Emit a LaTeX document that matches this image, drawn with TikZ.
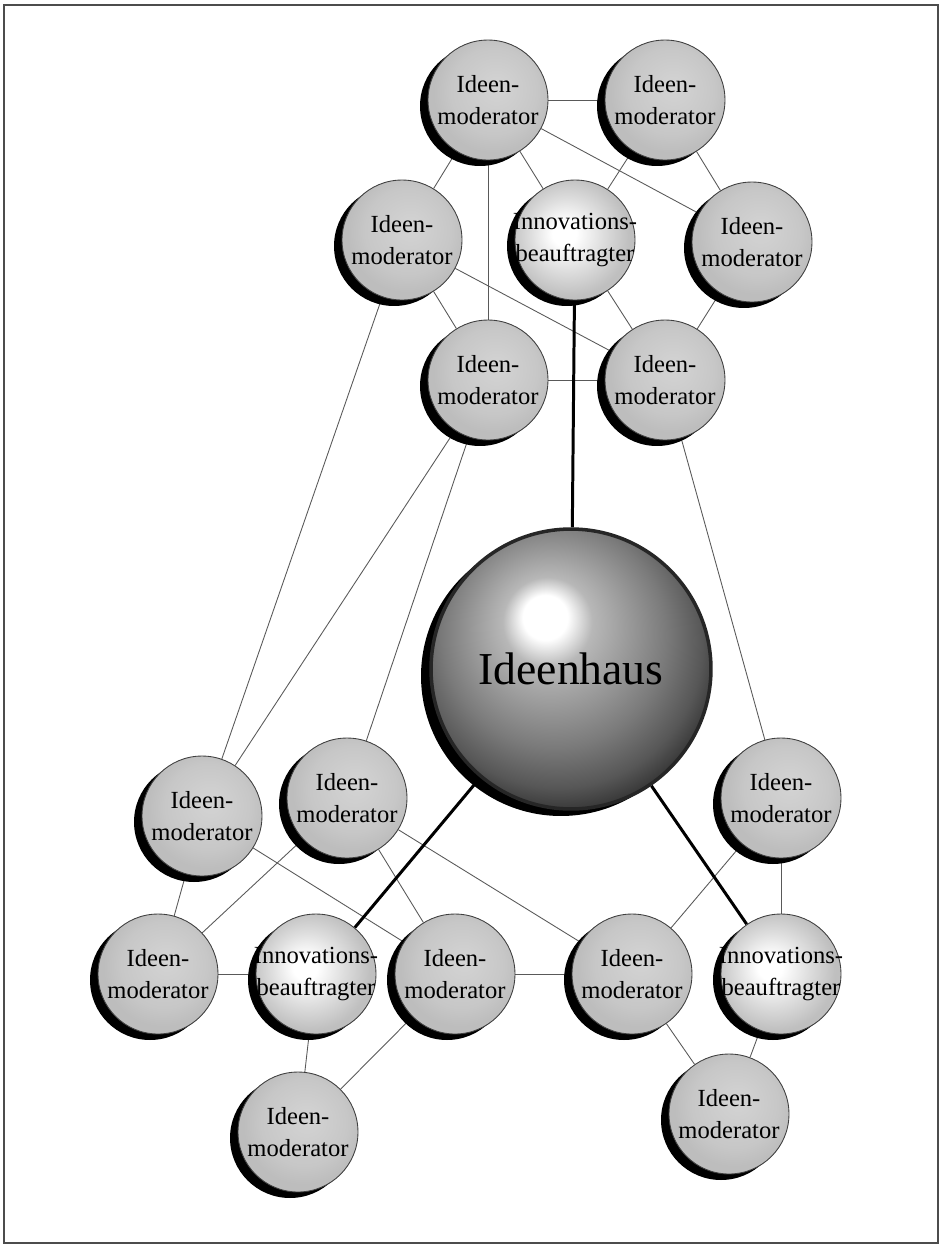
\documentclass[tikz,border=0pt]{standalone}
\usepackage{fontspec}
\setmainfont{Liberation Serif}
\usepackage{tikz}
\usetikzlibrary{shadows, backgrounds}

\pgfdeclareradialshading{ideeShade}{\pgfqpoint{4bp}{6bp}}{%
  color(0bp)=(black!17); color(18bp)=(black!22); color(25bp)=(black!26); color(50bp)=(black!26)}
\pgfdeclareradialshading{innoShade}{\pgfqpoint{-5bp}{3bp}}{%
  color(0bp)=(white); color(5bp)=(white); color(15bp)=(black!13); color(25bp)=(black!25); color(50bp)=(black!25)}
\pgfdeclareradialshading{hausShade}{\pgfqpoint{-5bp}{10bp}}{%
  color(0bp)=(white); color(4bp)=(white); color(8bp)=(black!28); color(14bp)=(black!40);
  color(20bp)=(black!52); color(26bp)=(black!66); color(30bp)=(black!80); color(33bp)=(black!88);
  color(50bp)=(black)}

\tikzset{
    % Shapes
    bubble/.style={circle, draw=black!75, line width=0.5pt, minimum size=2.4cm, inner sep=-6pt,
                   align=center, font=\fontsize{14}{18}\selectfont,
                   drop shadow={shadow xshift=-0.16cm, shadow yshift=-0.12cm, fill=black, opacity=1}},
    moderator/.style={bubble, shading=ideeShade},
    beauftragter/.style={bubble, shading=innoShade},
    haus/.style={circle, draw=black!85, line width=2pt, minimum size=5.6cm, inner sep=0pt,
                 shading=hausShade, font=\fontsize{26}{30}\selectfont,
                 drop shadow={shadow xshift=-0.2cm, shadow yshift=-0.14cm, fill=black, opacity=1}},
    % Links
    link/.style={line width=0.5pt, black!65},
    hardlink/.style={line width=1.7pt, black}
}

\begin{document}
\begin{tikzpicture}[x=0.02cm, y=-0.02cm]
\useasboundingbox (0,0) rectangle (941,1249);

\node[moderator] (im1) at (488,100) {Ideen-\\moderator};
\node[moderator] (im2) at (665,100) {Ideen-\\moderator};
\node[moderator] (im3) at (402,240) {Ideen-\\moderator};
\node[beauftragter] (ib1) at (575,240) {Innovations-\\beauftragter};
\node[moderator] (im4) at (752,242) {Ideen-\\moderator};
\node[moderator] (im5) at (488,380) {Ideen-\\moderator};
\node[moderator] (im6) at (665,380) {Ideen-\\moderator};

\node[haus] (haus) at (571,669) {Ideenhaus};

\node[moderator] (im7) at (202,816) {Ideen-\\moderator};
\node[moderator] (im8) at (347,798) {Ideen-\\moderator};
\node[moderator] (im9) at (781,798) {Ideen-\\moderator};

\node[moderator] (im10) at (158,974) {Ideen-\\moderator};
\node[beauftragter] (ib2) at (316,974) {Innovations-\\beauftragter};
\node[moderator] (im11) at (455,974) {Ideen-\\moderator};
\node[moderator] (im12) at (632,974) {Ideen-\\moderator};
\node[beauftragter] (ib3) at (781,974) {Innovations-\\beauftragter};

\node[moderator] (im13) at (298,1132) {Ideen-\\moderator};
\node[moderator] (im14) at (729,1114) {Ideen-\\moderator};

\begin{scope}[on background layer]
\draw[black!70, line width=0.8pt] (4,5) rectangle (938,1243);

\draw[link] (im1) -- (im2);
\draw[link] (im1) -- (im3);
\draw[link] (im1) -- (im5);
\draw[link] (im1) -- (ib1);
\draw[link] (im1) -- (im4);
\draw[link] (im2) -- (ib1);
\draw[link] (im2) -- (im4);
\draw[link] (im3) -- (im5);
\draw[link] (im3) -- (im6);
\draw[link] (ib1) -- (im6);
\draw[link] (im4) -- (im6);
\draw[link] (im5) -- (im6);

\draw[link] (im3) -- (im7);
\draw[link] (im5) -- (im7);
\draw[link] (im5) -- (im8);
\draw[link] (im6) -- (im9);

\draw[link] (im7) -- (im10);
\draw[link] (im7) -- (im11);
\draw[link] (im8) -- (im10);
\draw[link] (im8) -- (im11);
\draw[link] (im8) -- (im12);
\draw[link] (im10) -- (ib2);
\draw[link] (ib2) -- (im13);
\draw[link] (im11) -- (im13);
\draw[link] (im11) -- (im12);
\draw[link] (im9) -- (im12);
\draw[link] (im9) -- (ib3);
\draw[link] (im12) -- (im14);
\draw[link] (ib3) -- (im14);

\draw[hardlink] (ib1) -- (haus);
\draw[hardlink] (haus) -- (ib2);
\draw[hardlink] (haus) -- (ib3);
\end{scope}

\end{tikzpicture}
\end{document}
